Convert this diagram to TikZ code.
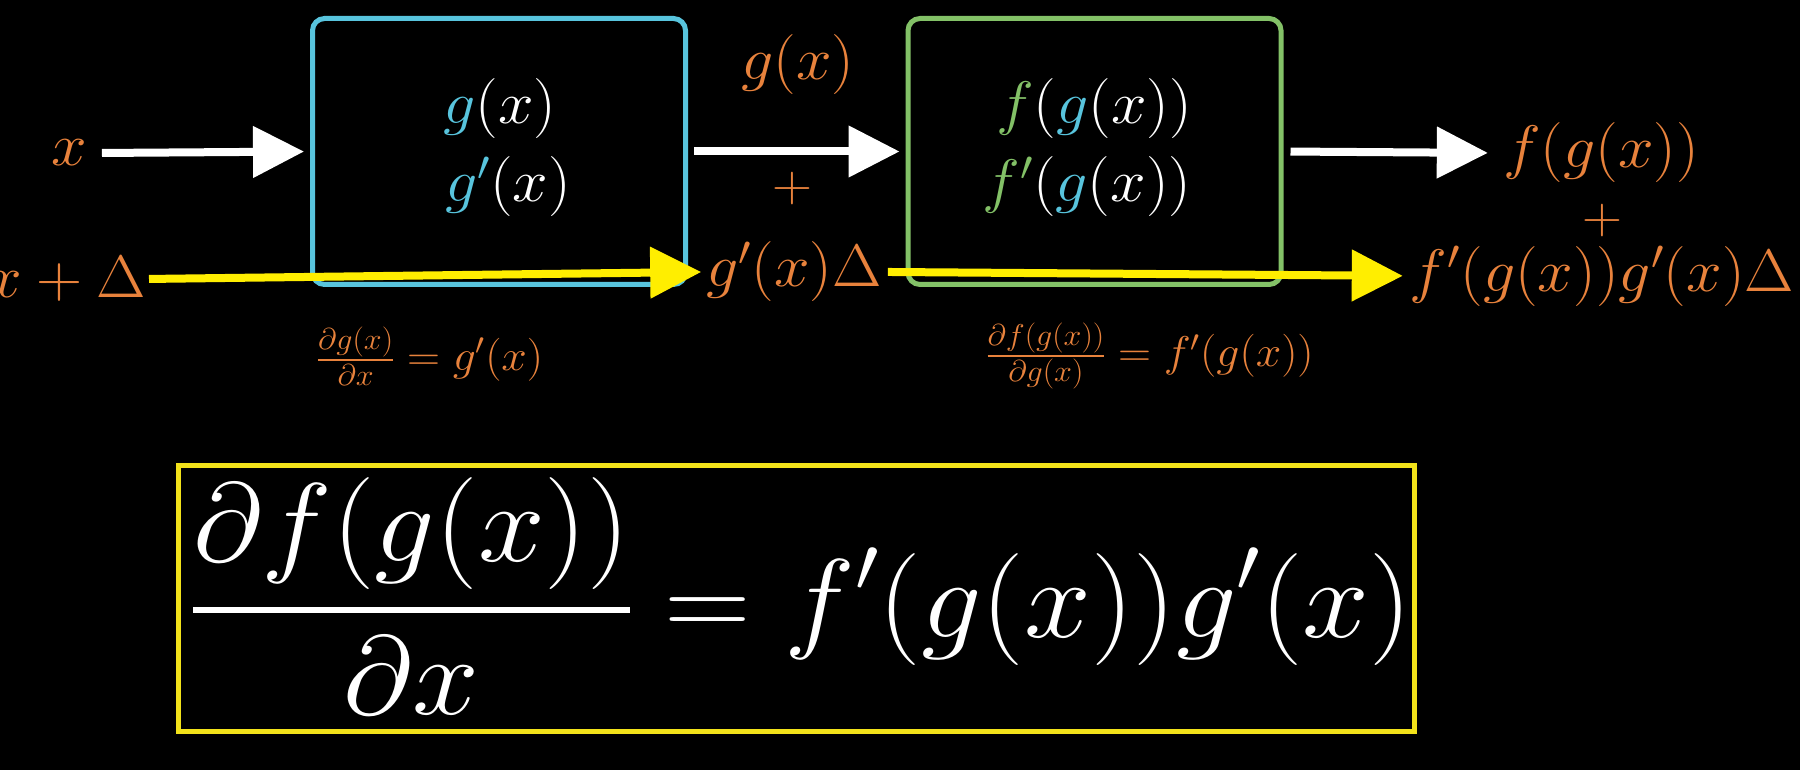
\RequirePackage{fix-cm}
\documentclass[tikz,border=0pt]{standalone}
\usepackage{graphicx}
\usetikzlibrary{arrows.meta}
\definecolor{orng}{HTML}{E8823C}
\definecolor{blu}{HTML}{58C4DD}
\definecolor{grn}{HTML}{83C167}
\definecolor{yel}{HTML}{FFEE00}
\definecolor{ybox}{HTML}{F2E21A}
\newcommand{\bl}[1]{{\color{blu}#1}}
\newcommand{\gr}[1]{{\color{grn}#1}}
\newcommand{\hs}[1]{\scalebox{1.065}[1]{#1}}
\begin{document}
\begin{tikzpicture}[x=1pt,y=-1pt,
  lbl/.style={text=orng,inner sep=0pt,font=\fontsize{60}{72}\selectfont},
  pluslbl/.style={text=orng,inner sep=0pt,font=\fontsize{52}{60}\selectfont},
  boxtxt/.style={text=white,inner sep=0pt,font=\fontsize{60}{72}\selectfont},
  smalllbl/.style={text=orng,inner sep=0pt,font=\fontsize{43}{50}\selectfont},
  fnbox/.style={line width=5pt,rounded corners=12pt,fill=black,minimum width=373pt,minimum height=266pt},
  warrow/.style={white,line width=8pt,-{Triangle[length=51pt,width=50pt]}},
  yarrow/.style={yel,line width=8pt,-{Triangle[length=51pt,width=50pt]}}]
\fill[black] (0,0) rectangle (1800,770);
\useasboundingbox (0,0) rectangle (1800,770);

% boxes
\node[fnbox,draw=blu] (gbox) at (499,151.5) {};
\node[fnbox,draw=grn] (fbox) at (1094.5,151.5) {};

% box texts
\node[boxtxt,anchor=base] (g1) at (500,124) {\hs{$\bl{g}(x)$}};
\node[boxtxt,anchor=base] (g2) at (508,202) {\hs{$\bl{g'}(x)$}};
\node[boxtxt,anchor=base] (f1) at (1094,124) {\hs{$\gr{f}(\bl{g}(x))$}};
\node[boxtxt,anchor=base] (f2) at (1087,202) {\hs{$\gr{f'}(\bl{g}(x))$}};

% orange labels
\node[lbl,anchor=base] (xin) at (69,166) {\hs{$x$}};
\node[lbl,anchor=base] (gtop) at (798,80) {\hs{$g(x)$}};
\node[pluslbl,anchor=base] (p1) at (792,202) {\hs{$+$}};
\node[lbl,anchor=base] (out1) at (1601,168) {\hs{$f(g(x))$}};
\node[pluslbl,anchor=base] (p2) at (1602,234) {\hs{$+$}};
\node[lbl,anchor=base] (out2) at (1602,291) {\hs{$f'(g(x))g'(x)\Delta$}};
\node[lbl,anchor=east] (xd) at (146,279) {\hs{$x+\Delta$}};
\node[lbl,anchor=base] (gd) at (794,287) {\hs{$g'(x)\Delta$}};

% small derivative labels
\node[smalllbl] (s1) at (430,356) {\hs{${\partial g(x)\above 2pt \partial x}=g'(x)$}};
\node[smalllbl] (s2) at (1150,356) {\hs{${\partial f(g(x))\above 2pt \partial g(x)}=f'(g(x))$}};

% white arrows
\draw[warrow,shorten <=15pt,shorten >=6pt] (xin.east) -- (gbox.west);
\draw[warrow,shorten <=6pt,shorten >=6pt] (gbox.east) -- (fbox.west);
\draw[warrow,shorten <=7pt,shorten >=15pt] (fbox.east) -- (out1.west);

% yellow arrows
\draw[yarrow,shorten <=3pt,shorten >=5pt] (xd.east) -- (gd.west);
\draw[yarrow,shorten <=6pt,shorten >=7pt] (gd.east) -- (out2.west);

% big equation
\node[draw=ybox,line width=5pt,minimum width=1236pt,minimum height=266pt] (ebox) at (796,598) {};
\node[text=white,inner sep=0pt,font=\fontsize{112}{130}\selectfont] (eq) at (802,596)
  {\scalebox{1.072}[1]{$\displaystyle{\partial f(g(x))\above 6pt \partial x} = f'(g(x))g'(x)$}};
\end{tikzpicture}
\end{document}
